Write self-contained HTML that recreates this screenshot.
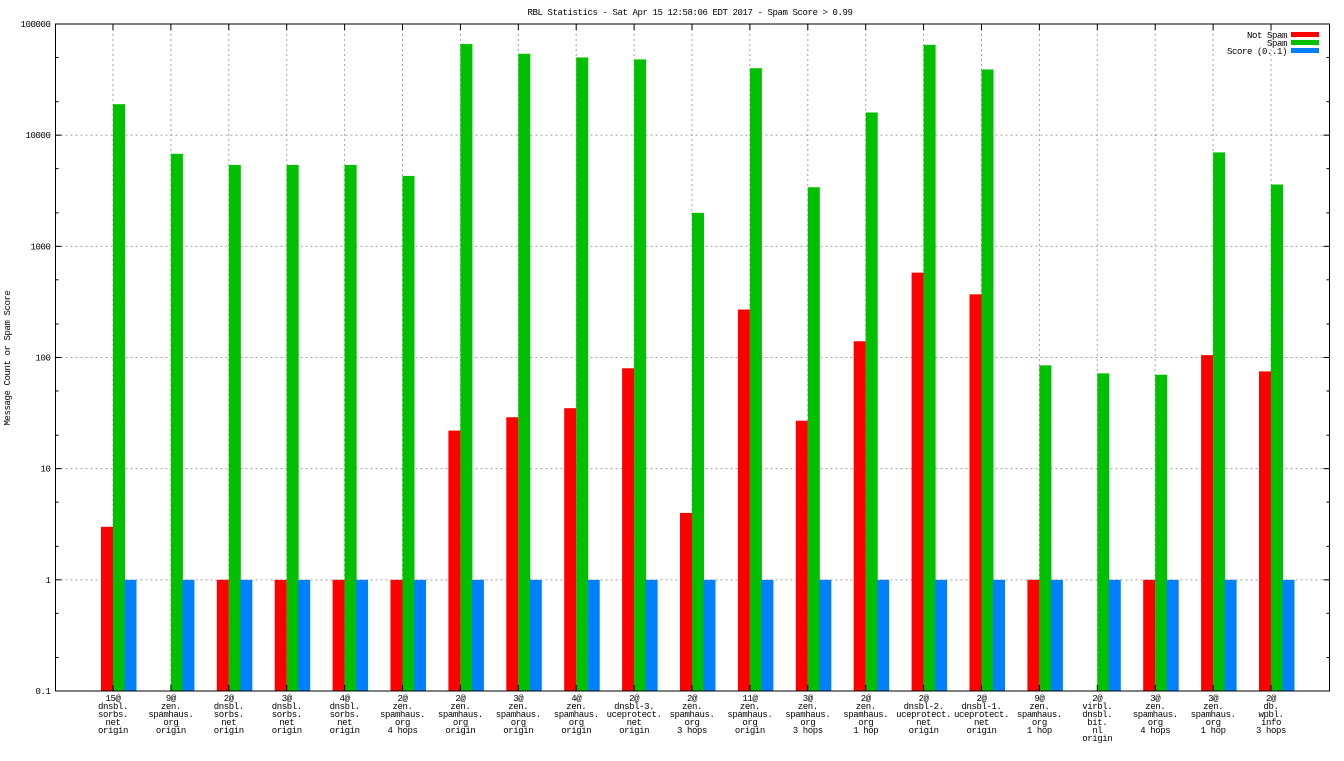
<!DOCTYPE html>
<html><head><meta charset="utf-8"><style>
body{margin:0;background:#fff;}
svg text{font-family:"Liberation Mono","DejaVu Sans Mono",monospace;font-size:9px;letter-spacing:-0.4px;fill:#000;}
</style></head><body>
<svg id="chart" width="1344" height="756" xmlns="http://www.w3.org/2000/svg">
<text x="690" y="15" text-anchor="middle">RBL Statistics - Sat Apr 15 12:58:06 EDT 2017 - Spam Score &gt; 0.99</text>
<text transform="translate(10,358) rotate(-90)" text-anchor="middle">Message Count or Spam Score</text>
<g id="grid"></g><g id="bars"></g><g id="axes"></g><g id="legend"></g>
</svg>
<script>
const categories=[
["15@","dnsbl.","sorbs.","net","origin"],["9@","zen.","spamhaus.","org","origin"],["2@","dnsbl.","sorbs.","net","origin"],["3@","dnsbl.","sorbs.","net","origin"],["4@","dnsbl.","sorbs.","net","origin"],["2@","zen.","spamhaus.","org","4 hops"],["2@","zen.","spamhaus.","org","origin"],["3@","zen.","spamhaus.","org","origin"],["4@","zen.","spamhaus.","org","origin"],["2@","dnsbl-3.","uceprotect.","net","origin"],["2@","zen.","spamhaus.","org","3 hops"],["11@","zen.","spamhaus.","org","origin"],["3@","zen.","spamhaus.","org","3 hops"],["2@","zen.","spamhaus.","org","1 hop"],["2@","dnsbl-2.","uceprotect.","net","origin"],["2@","dnsbl-1.","uceprotect.","net","origin"],["9@","zen.","spamhaus.","org","1 hop"],["2@","virbl.","dnsbl.","bit.","nl","origin"],["3@","zen.","spamhaus.","org","4 hops"],["3@","zen.","spamhaus.","org","1 hop"],["2@","db.","wpbl.","info","3 hops"]];
const notSpam=[3,null,1,1,1,1,22,29,35,80,4,270,27,140,580,370,1,null,1,105,75];
const spam=[19000,6800,5400,5400,5400,4300,66000,54000,50000,48000,2000,40000,3400,16000,65000,39000,85,72,70,7000,3600];
const score=[1,1,1,1,1,1,1,1,1,1,1,1,1,1,1,1,1,1,1,1,1];
const yTicks=[0.1,1,10,100,1000,10000,100000];
const yTickLabels=["0.1","1","10","100","1000","10000","100000"];

const L=55.5,R=1329.5,T=24,B=691;
const NS="http://www.w3.org/2000/svg";
function y(v){return B-(Math.log10(v)+1)/6*(B-T);}
function x(i){return 113+i*57.9;}
function mk(p,tag,a){const e=document.createElementNS(NS,tag);for(const k in a)e.setAttribute(k,a[k]);document.getElementById(p).appendChild(e);return e;}

yTicks.forEach((v,k)=>{
  const g=mk('grid','line',{x1:L,x2:R,y1:y(v),y2:y(v),stroke:'#a0a0a0','stroke-dasharray':'2,3'});
  
  
  const t=mk('axes','text',{x:L-5,y:y(v)+3,'text-anchor':'end'});t.textContent=yTickLabels[k];
  
  
  mk('axes','line',{x1:L,x2:L+6,y1:y(v),y2:y(v),stroke:'#000'});
  mk('axes','line',{x1:R,x2:R-6,y1:y(v),y2:y(v),stroke:'#000'});
  if(k<yTicks.length-1)[2,5].forEach(m=>{const yy=y(v*m);mk('axes','line',{x1:L,x2:L+3,y1:yy,y2:yy,stroke:'#000'});mk('axes','line',{x1:R,x2:R-3,y1:yy,y2:yy,stroke:'#000'});});
});
categories.forEach((c,i)=>{
  const g=mk('grid','line',{x1:x(i),x2:x(i),y1:T,y2:B,stroke:'#a0a0a0','stroke-dasharray':'2,3'});
  
  
  mk('axes','line',{x1:x(i),x2:x(i),y1:B,y2:B-6,stroke:'#000'});
  mk('axes','line',{x1:x(i),x2:x(i),y1:T,y2:T+6,stroke:'#000'});
  c.forEach((s,j)=>{const t=mk('axes','text',{x:x(i),y:701+j*8,'text-anchor':'middle'});t.textContent=s;
    
    });
  const series=[[notSpam,'#ff0000',-12,'bar-not-spam'],[spam,'#00c000',0,'bar-spam'],[score,'#0080ff',11.5,'bar-score']];
  series.forEach(([arr,col,off,nm])=>{
    const v=arr[i]; if(v==null)return;
    const r=mk('bars','rect',{x:x(i)+off,y:y(v),width:12,height:B-y(v),fill:col});
    
    
  });
});
mk('axes','rect',{x:L,y:T,width:R-L,height:B-T,fill:'none',stroke:'#000','stroke-width':1});
[['Not Spam','#ff0000'],['Spam','#00c000'],['Score (0..1)','#0080ff']].forEach(([n,c],k)=>{
  const t=mk('legend','text',{x:1287,y:38+k*8,'text-anchor':'end'});t.textContent=n;
  
  
  mk('legend','rect',{x:1291,y:32+k*8,width:28,height:5,fill:c});
});
</script>
</body></html>
